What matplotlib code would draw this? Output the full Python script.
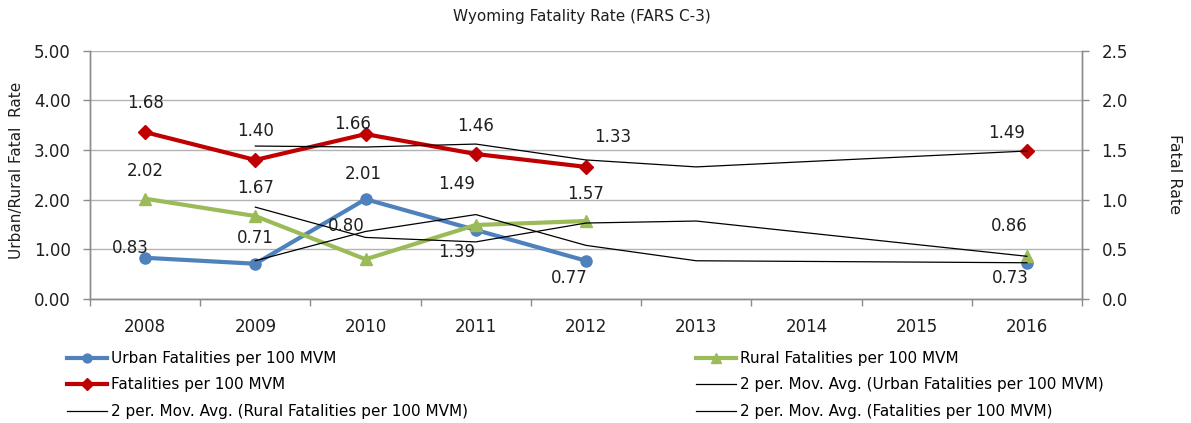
import numpy as np
import matplotlib
matplotlib.use("Agg")
import matplotlib.pyplot as plt

nan = np.nan
years = ["2008", "2009", "2010", "2011", "2012", "2013", "2014", "2015", "2016"]
urban = [0.83, 0.71, 2.01, 1.39, 0.77, nan, nan, nan, 0.73]
rural = [2.02, 1.67, 0.80, 1.49, 1.57, nan, nan, nan, 0.86]
fatal = [1.68, 1.40, 1.66, 1.46, 1.33, nan, nan, nan, 1.49]
ma_urban = [nan, 0.77, 1.36, 1.70, 1.08, 0.77, nan, nan, 0.73]
ma_rural = [nan, 1.85, 1.24, 1.15, 1.53, 1.57, nan, nan, 0.86]
ma_fatal = [nan, 1.54, 1.53, 1.56, 1.40, 1.33, nan, nan, 1.49]

title = "Wyoming Fatality Rate (FARS C-3)"
left_label = "Urban/Rural Fatal  Rate"
right_label = "Fatal Rate"
lab_urban = "Urban Fatalities per 100 MVM"
lab_rural = "Rural Fatalities per 100 MVM"
lab_fatal = "Fatalities per 100 MVM"
lab_ma_urban = "2 per. Mov. Avg. (Urban Fatalities per 100 MVM)"
lab_ma_rural = "2 per. Mov. Avg. (Rural Fatalities per 100 MVM)"
lab_ma_fatal = "2 per. Mov. Avg. (Fatalities per 100 MVM)"

BLUE = "#4F81BD"
GREEN = "#9BBB59"
RED = "#C00000"
GRID = "#B3B3B3"
SPINE = "#8C8C8C"
TXT = "#1F1F1F"

plt.rcParams["font.family"] = ["DejaVu Sans"]

W, H = 1191, 423
fig = plt.figure(figsize=(W / 100, H / 100), dpi=100)
L, R, T, B = 90, 1082, 50.7, 299
ax = fig.add_axes([L / W, 1 - B / H, (R - L) / W, (B - T) / H])
ax2 = ax.twinx()

x = np.arange(len(years))


def finite(xs, ys):
    ys = np.asarray(ys, dtype=float)
    m = np.isfinite(ys)
    return xs[m], ys[m]


l_u, = ax.plot(x, urban, color=BLUE, lw=3.0, marker="o", ms=8, zorder=3, label=lab_urban)
l_r, = ax.plot(x, rural, color=GREEN, lw=3.0, marker="^", ms=9, zorder=3, label=lab_rural)
xm, ym = finite(x, ma_urban)
l_mu, = ax.plot(xm, ym, color="black", lw=0.9, zorder=4, label=lab_ma_urban)
xm, ym = finite(x, ma_rural)
l_mr, = ax.plot(xm, ym, color="black", lw=0.9, zorder=4, label=lab_ma_rural)

l_f, = ax2.plot(x, fatal, color=RED, lw=3.0, marker="D", ms=7.5, zorder=3, label=lab_fatal)
xm, ym = finite(x, ma_fatal)
l_mf, = ax2.plot(xm, ym, color="black", lw=0.9, zorder=4, label=lab_ma_fatal)

# data labels (offsets in pixels)
off_u = [(-15, 9.5), (0, 26), (-2, 25), (-19, -22), (-17, -17.5), None, None, None, (-17, -15.5)]
off_r = [(0, 28), (0, 28), (-19, 33), (-19, 41), (0, 27), None, None, None, (-18, 30)]
off_f = [(0, 29), (0, 29), (-13, 10), (0, 27.5), (27, 30), None, None, None, (-20, 18)]
for axis, vals, offs in ((ax, urban, off_u), (ax, rural, off_r), (ax2, fatal, off_f)):
    for i, v in enumerate(vals):
        if np.isfinite(v):
            axis.annotate(f"{v:.2f}", (i, v), xytext=offs[i], textcoords="offset pixels",
                          ha="center", va="center", fontsize=12, color=TXT, zorder=6)

ax.set_xlim(-0.5, len(years) - 0.5)
ax.set_ylim(0, 5)
ax2.set_ylim(0, 2.5)
ax.set_yticks(np.arange(0, 5.01, 1.0))
ax.set_yticklabels([f"{v:.2f}" for v in np.arange(0, 5.01, 1.0)])
ax2.set_yticks(np.arange(0, 2.51, 0.5))
ax2.set_yticklabels([f"{v:.1f}" for v in np.arange(0, 2.51, 0.5)])
ax.set_xticks(x)
ax.set_xticklabels(years)
ax.set_xticks(np.arange(-0.5, len(years)), minor=True)

ax.yaxis.grid(True, color=GRID, lw=1.0)
ax.set_axisbelow(True)
ax.tick_params(axis="x", which="major", length=0, pad=14, labelsize=12, labelcolor=TXT)
ax.tick_params(axis="x", which="minor", length=5, width=1, color=SPINE, direction="out")
ax.tick_params(axis="y", length=5, width=1, color=SPINE, pad=9, labelsize=12, labelcolor=TXT)
ax2.tick_params(axis="y", length=5, width=1, color=SPINE, pad=9, labelsize=12, labelcolor=TXT)

for a in (ax, ax2):
    a.spines["top"].set_visible(False)
    for s in ("left", "right", "bottom"):
        a.spines[s].set_color(SPINE)
        a.spines[s].set_linewidth(1.0)

fig.text(582 / W, 1 - 17 / H, title, ha="center", va="center", fontsize=11, color=TXT)
fig.text(17 / W, 1 - 170 / H, left_label, ha="center", va="center", rotation=90, fontsize=11, color=TXT)
fig.text(1175 / W, 1 - 174 / H, right_label, ha="center", va="center", rotation=270, fontsize=11.5, color=TXT)

common = dict(loc="upper left", bbox_transform=fig.transFigure, frameon=False, fontsize=11,
              handlelength=2.6, handletextpad=0.3, labelspacing=0.75, borderaxespad=0,
              borderpad=0, numpoints=1, markerscale=0.8)
fig.legend(handles=[l_u, l_f, l_mr], bbox_to_anchor=(67 / W, 1 - 351 / H), **common)
fig.legend(handles=[l_r, l_mu, l_mf], bbox_to_anchor=(696 / W, 1 - 351 / H), **common)

fig.savefig("out.png", dpi=100)
